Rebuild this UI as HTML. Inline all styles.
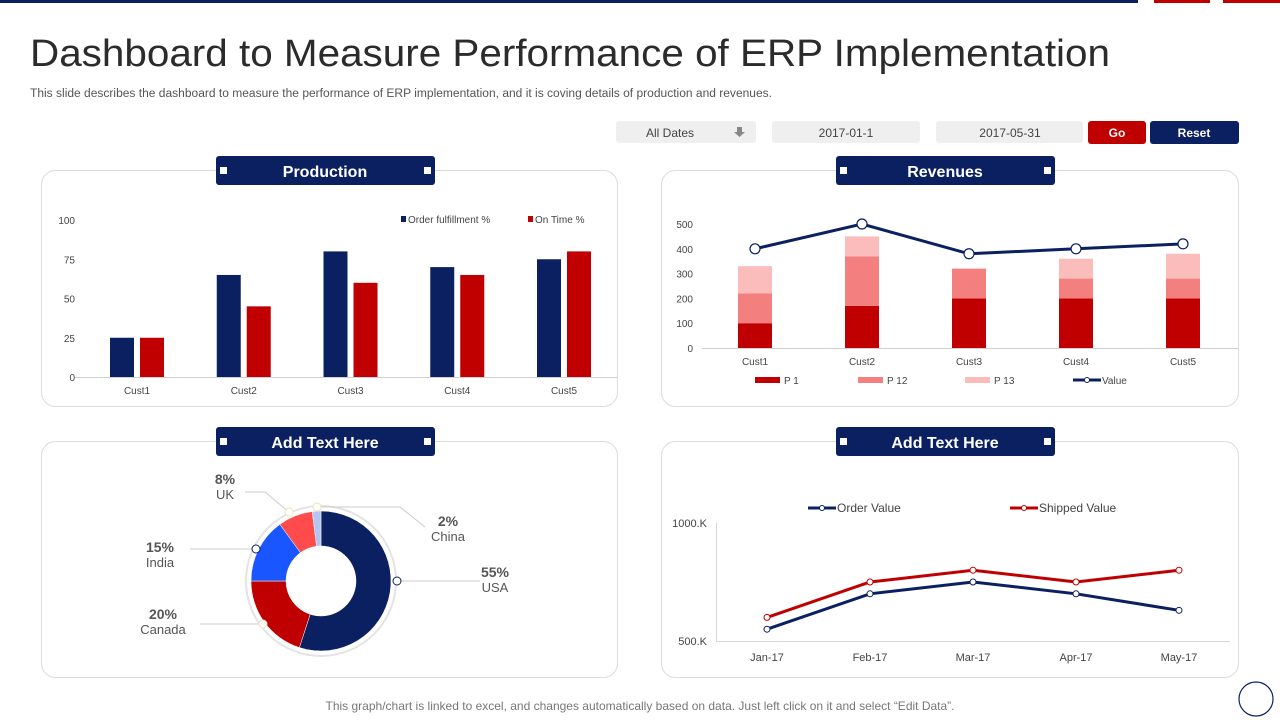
<!DOCTYPE html>
<html><head><meta charset="utf-8"><style>
html,body{margin:0;padding:0;background:#fff;width:1280px;height:720px;overflow:hidden}
svg{display:block;font-family:"Liberation Sans",Arial,sans-serif}
</style></head><body>
<svg id="s" width="1280" height="720" viewBox="0 0 1280 720">
<rect x="0" y="0" width="1138" height="3" fill="#0b2060"/>
<rect x="1154" y="0" width="56" height="3" fill="#c00000"/>
<rect x="1223" y="0" width="57" height="3" fill="#c00000"/>
<text x="30" y="66" font-size="38" fill="#2b2b2b" textLength="1080" lengthAdjust="spacingAndGlyphs">Dashboard to Measure Performance of ERP Implementation</text>
<text x="30" y="97" font-size="11.5" fill="#555" textLength="742" lengthAdjust="spacingAndGlyphs">This slide describes the dashboard to measure the performance of ERP implementation, and it is coving details of production and revenues.</text>

<g>
<rect x="616" y="121" width="140" height="22" rx="3" fill="#efefef"/>
<text x="670" y="137" font-size="12" fill="#444" text-anchor="middle">All Dates</text>
<path d="M737 127h5v5h3l-5.5 5-5.5-5h3z" fill="#888"/>
</g>
<g>
<rect x="772" y="121" width="148" height="22" rx="3" fill="#efefef"/>
<text x="846" y="137" font-size="12" fill="#444" text-anchor="middle">2017-01-1</text>
</g>
<g>
<rect x="936" y="121" width="147" height="22" rx="3" fill="#efefef"/>
<text x="1010" y="137" font-size="12" fill="#444" text-anchor="middle">2017-05-31</text>
</g>
<g>
<rect x="1088" y="121" width="58" height="23" rx="3" fill="#c00000"/>
<text x="1117" y="137" font-size="12" font-weight="bold" fill="#fff" text-anchor="middle">Go</text>
</g>
<g>
<rect x="1150" y="121" width="89" height="23" rx="3" fill="#0b2060"/>
<text x="1194" y="137" font-size="12" font-weight="bold" fill="#fff" text-anchor="middle">Reset</text>
</g>

<rect x="41.5" y="170.5" width="576" height="236" rx="14" fill="#fff" stroke="#dcdcdc"/>
<rect x="661.5" y="170.5" width="577" height="236" rx="14" fill="#fff" stroke="#dcdcdc"/>
<rect x="41.5" y="441.5" width="576" height="236" rx="14" fill="#fff" stroke="#dcdcdc"/>
<rect x="661.5" y="441.5" width="577" height="236" rx="14" fill="#fff" stroke="#dcdcdc"/>

<g>
<rect x="216" y="156" width="219" height="29" rx="3" fill="#0b2060"/><rect x="220" y="167" width="7" height="7" fill="#fff"/><rect x="424" y="167" width="7" height="7" fill="#fff"/>
<text x="325" y="177" font-size="16" font-weight="bold" fill="#fff" text-anchor="middle">Production</text></g>
<g>
<rect x="836" y="156" width="219" height="29" rx="3" fill="#0b2060"/><rect x="840" y="167" width="7" height="7" fill="#fff"/><rect x="1044" y="167" width="7" height="7" fill="#fff"/>
<text x="945" y="177" font-size="16" font-weight="bold" fill="#fff" text-anchor="middle">Revenues</text></g>
<g>
<rect x="216" y="427" width="219" height="29" rx="3" fill="#0b2060"/><rect x="220" y="438" width="7" height="7" fill="#fff"/><rect x="424" y="438" width="7" height="7" fill="#fff"/>
<text x="325" y="448" font-size="16" font-weight="bold" fill="#fff" text-anchor="middle">Add Text Here</text></g>
<g>
<rect x="836" y="427" width="219" height="29" rx="3" fill="#0b2060"/><rect x="840" y="438" width="7" height="7" fill="#fff"/><rect x="1044" y="438" width="7" height="7" fill="#fff"/>
<text x="945" y="448" font-size="16" font-weight="bold" fill="#fff" text-anchor="middle">Add Text Here</text></g>

<g id="prod"></g><g id="rev"></g><g id="pie"></g><g id="line"></g>

<text x="640" y="710" font-size="12" fill="#777" text-anchor="middle">This graph/chart is linked to excel, and changes automatically based on data. Just left click on it and select “Edit Data”.</text>
<circle cx="1256" cy="699" r="17" fill="none" stroke="#0b2060" stroke-width="1.2"/>
</svg>
<script>
const NS="http://www.w3.org/2000/svg";
function mk(p,tag,a,txt){const e=document.createElementNS(NS,tag);for(const k in a)e.setAttribute(k,a[k]);if(txt!==undefined)e.textContent=txt;p.appendChild(e);return e;}

// Production data
const prodCats=["Cust1","Cust2","Cust3","Cust4","Cust5"];
const prodOrder=[25,65,80,70,75];
const prodOnTime=[25,45,60,65,80];
const prodTicks=[0,25,50,75,100];
// Revenue data
const revCats=["Cust1","Cust2","Cust3","Cust4","Cust5"];
const revP1=[100,170,200,200,200];
const revP12=[120,200,120,80,80];
const revP13=[110,80,0,80,100];
const revValue=[400,500,380,400,420];
const revTicks=[0,100,200,300,400,500];
// Share data
const shareLabels=["USA","Canada","India","UK","China"];
const shareValues=[55,20,15,8,2];
// Line data
const lineCats=["Jan-17","Feb-17","Mar-17","Apr-17","May-17"];
const orderValue=[550,700,750,700,630];
const shippedValue=[600,750,800,750,800];
const lineTicks=[500,1000];

// Production chart
(function(){
const g=document.getElementById('prod');
const y=v=>377-v*1.57, x=i=>137+i*106.75;
mk(g,'line',{x1:75,x2:617,y1:377.5,y2:377.5,stroke:'#d0d0d0'});
prodTicks.forEach(t=>{const e=mk(g,'text',{x:75,y:y(t)+4,'font-size':10,fill:'#444','text-anchor':'end'},t);
});
prodCats.forEach((c,i)=>{
const a=mk(g,'rect',{x:x(i)-27,y:y(prodOrder[i]),width:24,height:prodOrder[i]*1.57,fill:'#0b2060'});

const b=mk(g,'rect',{x:x(i)+3,y:y(prodOnTime[i]),width:24,height:prodOnTime[i]*1.57,fill:'#c00000'});

const t=mk(g,'text',{x:x(i),y:394,'font-size':10,fill:'#444','text-anchor':'middle'},c);

});
const l1=mk(g,'g',{});
mk(l1,'rect',{x:401,y:216,width:5,height:6,fill:'#0b2060'});mk(l1,'text',{x:408,y:223,'font-size':10,fill:'#444'},'Order fulfillment %');
const l2=mk(g,'g',{});
mk(l2,'rect',{x:528,y:216,width:5,height:6,fill:'#c00000'});mk(l2,'text',{x:535,y:223,'font-size':10,fill:'#444'},'On Time %');
})();

// Revenue chart
(function(){
const g=document.getElementById('rev');
const k=0.248,y=v=>348-v*k, x=i=>755+i*107;
mk(g,'line',{x1:702,x2:1238,y1:348.5,y2:348.5,stroke:'#d0d0d0'});
revTicks.forEach(t=>{const e=mk(g,'text',{x:693,y:y(t)+4,'font-size':10,fill:'#444','text-anchor':'end'},t);
});
revCats.forEach((c,i)=>{
let base=0;
[[revP1,'#c00000','p1'],[revP12,'#f47f7f','p12'],[revP13,'#fbbcbc','p13']].forEach(([arr,col,n])=>{
const v=arr[i];const r=mk(g,'rect',{x:x(i)-17,y:y(base+v),width:34,height:v*k,fill:col});
base+=v;});
const t=mk(g,'text',{x:x(i),y:365,'font-size':10,fill:'#444','text-anchor':'middle'},c);

});
const pl=mk(g,'polyline',{points:revValue.map((v,i)=>x(i)+','+y(v)).join(' '),fill:'none',stroke:'#0b2060','stroke-width':3});

revValue.forEach((v,i)=>{const c=mk(g,'circle',{cx:x(i),cy:y(v),r:5,fill:'#fff',stroke:'#0b2060','stroke-width':1.2});
});
const leg=[['#c00000','P 1',755],['#f47f7f','P 12',858],['#fbbcbc','P 13',965]];
leg.forEach(([col,t,lx])=>{const lg=mk(g,'g',{});
mk(lg,'rect',{x:lx,y:377,width:25,height:6,fill:col});mk(lg,'text',{x:lx+29,y:384,'font-size':10,fill:'#444'},t);});
const lv=mk(g,'g',{});
mk(lv,'line',{x1:1073,x2:1101,y1:380,y2:380,stroke:'#0b2060','stroke-width':3});mk(lv,'circle',{cx:1087,cy:380,r:2.5,fill:'#fff',stroke:'#0b2060'});
mk(lv,'text',{x:1102,y:384,'font-size':10,fill:'#444'},'Value');
})();

// Donut
(function(){
const g=document.getElementById('pie');
const cx=321,cy=581,R=70,r=35;
mk(g,'circle',{cx:cx,cy:cy,r:75,fill:'#fff',stroke:'#e4e4e4','stroke-width':2});
const cols=['#0b2060','#c00000','#1a56ff','#ff4b4b','#b4c6f0'];
const tot=shareValues.reduce((a,b)=>a+b,0);
let a0=0;
const pt=(a,rr)=>[cx+rr*Math.sin(a),cy-rr*Math.cos(a)];
const mids=[];
shareValues.forEach((v,i)=>{
const a1=a0+v/tot*2*Math.PI;const lg=(a1-a0)>Math.PI?1:0;
const p1=pt(a0,R),p2=pt(a1,R),p3=pt(a1,r),p4=pt(a0,r);
const p=mk(g,'path',{d:`M${p1}L${p1}A${R},${R} 0 ${lg} 1 ${p2}L${p3}A${r},${r} 0 ${lg} 0 ${p4}Z`,fill:cols[i],stroke:'#fff','stroke-width':0.5});

mids.push((a0+a1)/2);a0=a1;});
// callouts: [dot x,y, line end x, label x, anchor]
const call=[[397,581,480,495,'middle'],[263,624,200,163,'middle'],[256,549,190,160,'middle'],[289,512,245,225,'middle'],[317,507,400,448,'middle']];
const ly=[581,624,549,492,507];
const labY=[[577,592],[619,634],[552,567],[484,499],[526,541]];
shareLabels.forEach((n,i)=>{
const c=call[i];
const gl=mk(g,'g',{});
if(i===4){mk(gl,'polyline',{points:`${c[0]},${c[1]} 400,507 425,527`,fill:'none',stroke:'#ccc'});}
else if(i===3){mk(gl,'polyline',{points:`${c[0]},${c[1]} 265,492 245,492`,fill:'none',stroke:'#ccc'});}
else mk(gl,'line',{x1:c[0],y1:c[1],x2:c[2],y2:c[1],stroke:'#ccc'});
mk(gl,'circle',{cx:c[0],cy:c[1],r:4,fill:'#fff',stroke:i===0||i===2?'#0b2060':'#f0e2b0','stroke-width':1});
mk(gl,'text',{x:c[3],y:labY[i][0],'font-size':14,'font-weight':'bold',fill:'#555','text-anchor':c[4]},shareValues[i]+'%');
mk(gl,'text',{x:c[3],y:labY[i][1],'font-size':13,fill:'#555','text-anchor':c[4]},n);
});
})();

// Line chart
(function(){
const g=document.getElementById('line');
const y=v=>641-(v-500)*0.236, x=i=>767+i*103;
mk(g,'line',{x1:716.5,x2:716.5,y1:523,y2:641,stroke:'#d8d8d8'});
mk(g,'line',{x1:716,x2:1230,y1:641.5,y2:641.5,stroke:'#d8d8d8'});
lineTicks.forEach(t=>{const e=mk(g,'text',{x:707,y:y(t)+4,'font-size':11,fill:'#444','text-anchor':'end'},t.toFixed(0)+'.K');
});
lineCats.forEach((c,i)=>{const t=mk(g,'text',{x:x(i),y:661,'font-size':11,fill:'#444','text-anchor':'middle'},c);
});
[[orderValue,'#0b2060','order'],[shippedValue,'#c00000','shipped']].forEach(([arr,col,n])=>{
const pl=mk(g,'polyline',{points:arr.map((v,i)=>x(i)+','+y(v)).join(' '),fill:'none',stroke:col,'stroke-width':3});

arr.forEach((v,i)=>{const c=mk(g,'circle',{cx:x(i),cy:y(v),r:3,fill:'#fff',stroke:col,'stroke-width':1});
});
});
[[808,'#0b2060','Order Value'],[1010,'#c00000','Shipped Value']].forEach(([lx,col,t])=>{
const lg=mk(g,'g',{});
mk(lg,'line',{x1:lx,x2:lx+28,y1:508,y2:508,stroke:col,'stroke-width':3});mk(lg,'circle',{cx:lx+14,cy:508,r:2.5,fill:'#fff',stroke:col});
mk(lg,'text',{x:lx+29,y:512,'font-size':12,fill:'#444'},t);});
})();
</script>
</body></html>
